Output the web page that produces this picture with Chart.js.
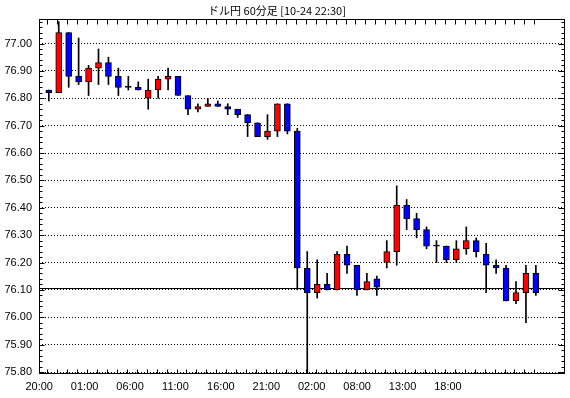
<!DOCTYPE html>
<html><head><meta charset="utf-8">
<script src="https://cdn.jsdelivr.net/npm/chart.js@4/dist/chart.umd.min.js"></script>
<style>html,body{margin:0;padding:0;background:#fff;}canvas{display:block;}</style>
</head><body>
<canvas id="c" width="570" height="398"></canvas>
<script>
const titleText = 'ドル円 60分足 [10-24 22:30]';
const openPrices  = [76.83,76.82,77.04,76.88,76.86,76.91,76.93,76.88,76.84,76.84,76.80,76.83,76.87,76.88,76.81,76.76,76.77,76.78,76.77,76.76,76.74,76.71,76.66,76.68,76.78,76.68,76.18,76.09,76.12,76.10,76.23,76.19,76.10,76.14,76.20,76.24,76.41,76.36,76.32,76.26,76.26,76.21,76.25,76.28,76.23,76.19,76.18,76.06,76.09,76.16];
const highPrices  = [76.83,77.08,77.04,77.02,76.92,76.98,76.95,76.91,76.88,76.86,76.87,76.88,76.91,76.88,76.81,76.78,76.80,76.79,76.78,76.76,76.74,76.71,76.74,76.78,76.78,76.69,76.24,76.21,76.16,76.24,76.26,76.19,76.16,76.15,76.28,76.48,76.43,76.38,76.33,76.28,76.26,76.28,76.33,76.29,76.27,76.21,76.19,76.13,76.19,76.19];
const lowPrices   = [76.79,76.82,76.84,76.85,76.81,76.85,76.85,76.81,76.83,76.83,76.76,76.80,76.83,76.81,76.74,76.75,76.77,76.77,76.74,76.73,76.66,76.66,76.65,76.66,76.67,76.10,75.79,76.07,76.10,76.10,76.16,76.08,76.10,76.08,76.18,76.19,76.32,76.29,76.25,76.20,76.20,76.20,76.23,76.22,76.09,76.16,76.06,76.05,75.98,76.08];
const closePrices = [76.82,77.04,76.88,76.86,76.91,76.93,76.88,76.84,76.84,76.83,76.83,76.87,76.88,76.81,76.76,76.77,76.78,76.77,76.76,76.74,76.71,76.66,76.68,76.78,76.68,76.18,76.09,76.12,76.10,76.23,76.19,76.10,76.13,76.11,76.24,76.41,76.36,76.32,76.26,76.26,76.21,76.25,76.28,76.24,76.19,76.18,76.06,76.09,76.16,76.09];
const xTickLabels = ['20:00','01:00','06:00','11:00','16:00','21:00','02:00','08:00','13:00','18:00'];
const yTickValues = [75.80,75.90,76.00,76.10,76.20,76.30,76.40,76.50,76.60,76.70,76.80,76.90,77.00];
const referenceLine = 76.107;

// layout constants (axis ranges / label placement)
const X_MIN = -0.986, X_MAX = 51.93;
const Y_MIN = 75.7927, Y_MAX = 77.0895;
const LABEL_START = -0.965, LABEL_STEP = 4.569;
const FONT = '"Liberation Sans", Arial, sans-serif';

const idx = openPrices.map((_, i) => i);
const bodies = idx.map(i => ({x: i, y: [openPrices[i], closePrices[i]]}));
const wicks = idx.map(i => ({x: i, y: [lowPrices[i], highPrices[i]]}));
const bodyColors = idx.map(i => closePrices[i] > openPrices[i] ? '#ff0000' : (closePrices[i] < openPrices[i] ? '#0000ff' : '#000000'));

const framePlugin = {
  id: 'frame',
  beforeDatasetsDraw(chart) {
    const {ctx, scales: {y}, chartArea: a} = chart;
    const py = Math.round(y.getPixelForValue(referenceLine)) + 0.5;
    ctx.save();
    ctx.strokeStyle = '#000'; ctx.lineWidth = 1;
    ctx.beginPath(); ctx.moveTo(a.left, py); ctx.lineTo(a.right, py); ctx.stroke();
    ctx.restore();
  },
  afterDatasetsDraw(chart) {
    const {ctx, scales: {x, y}, chartArea: a} = chart;
    ctx.save();
    ctx.strokeStyle = '#000'; ctx.lineWidth = 1;
    const L = a.left + 0.5, R = a.right - 0.5, T = a.top + 0.5, B = a.bottom - 0.5;
    ctx.strokeRect(L, T, R - L, B - T);
    ctx.beginPath();
    for (let k = 0; ; k++) {
      const v = yTickValues[0] + k * 0.02;
      if (v > Y_MAX) break;
      const p = Math.round(y.getPixelForValue(v)) + 0.5;
      const major = k % 5 === 0;
      ctx.moveTo(L, p); ctx.lineTo(L + (major ? 5 : 3), p);
      ctx.moveTo(R, p); ctx.lineTo(R - (major ? 6 : 3), p);
    }
    idx.forEach(i => {
      const p = Math.round(x.getPixelForValue(i) - 1.5) + 0.5;
      ctx.moveTo(p, T); ctx.lineTo(p, T + 5);
      ctx.moveTo(p, B); ctx.lineTo(p, B - 4);
    });
    ctx.stroke();
    ctx.fillStyle = '#000';
    ctx.font = '11px "Noto Sans CJK JP", sans-serif';
    ctx.textAlign = 'center'; ctx.textBaseline = 'middle';
    ctx.fillText(titleText, 277, 11);
    ctx.restore();
  }
};

new Chart(document.getElementById('c'), {
  type: 'bar',
  data: {
    datasets: [
      {label: 'body', data: bodies, backgroundColor: bodyColors, borderColor: '#000', borderWidth: 1,
       borderSkipped: false, barThickness: 6, grouped: false, order: 0, minBarLength: 1},
      {label: 'wick', data: wicks, backgroundColor: '#000', borderWidth: 0,
       barThickness: 1, grouped: false, order: 1}
    ]
  },
  options: {
    responsive: false, animation: false, devicePixelRatio: 1,
    layout: {padding: {left: 0, top: 19, right: 5, bottom: 0}},
    plugins: {legend: {display: false}, tooltip: {enabled: false}, title: {display: false}},
    scales: {
      x: {
        type: 'linear', min: X_MIN, max: X_MAX, offset: false,
        grid: {display: false, drawTicks: false}, border: {display: false},
        afterBuildTicks: s => { s.ticks = xTickLabels.map((_, k) => ({value: LABEL_START + LABEL_STEP * k})); },
        afterFit: s => { s.height = 24; },
        ticks: {autoSkip: false, maxRotation: 0, minRotation: 0, padding: 6, color: '#000',
          font: {family: FONT, size: 11}, callback: (v, k) => xTickLabels[k]}
      },
      y: {
        type: 'linear', min: Y_MIN, max: Y_MAX,
        grid: {color: '#000', drawTicks: false, lineWidth: 1},
        border: {display: false, dash: [1, 2]},
        afterBuildTicks: s => { s.ticks = yTickValues.map(v => ({value: v})); },
        afterFit: s => { s.width = 39; },
        ticks: {padding: 7, color: '#000', font: {family: FONT, size: 11}, callback: v => v.toFixed(2)}
      }
    }
  },
  plugins: [framePlugin]
});
</script>
</body></html>
